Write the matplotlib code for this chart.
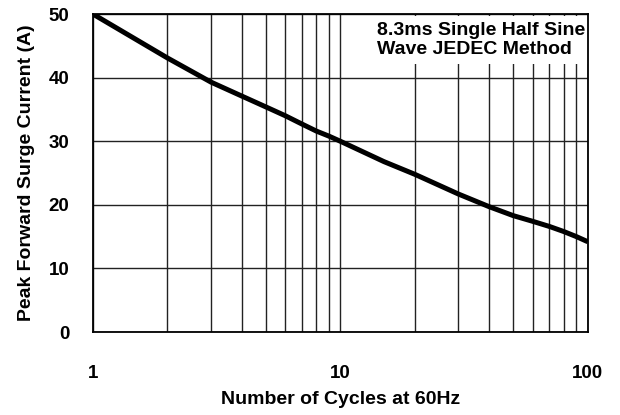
import numpy as np
import matplotlib.pyplot as plt
from matplotlib.ticker import FixedLocator, NullFormatter

# -----------------------------------------------------------------------------

cycles = [1, 2, 3, 4, 5, 6, 7, 8, 9, 10, 15, 20, 30, 40, 50, 60, 70, 80, 90, 100]
current = [50.0, 43.1, 39.3, 37.1, 35.4, 34.0, 32.7, 31.6, 30.8, 30.0,
           26.8, 24.8, 21.7, 19.7, 18.3, 17.4, 16.6, 15.8, 15.0, 14.2]

x_ticks = [1, 10, 100]
y_ticks = [0, 10, 20, 30, 40, 50]

note = '8.3ms Single Half Sine\nWave JEDEC Method'

# -----------------------------------------------------------------------------

plt.rcParams['font.family'] = ['Liberation Sans', 'DejaVu Sans']
plt.rcParams['font.weight'] = 'bold'

fig = plt.figure(figsize=(6.2, 4.15), dpi=100)
ax = fig.add_axes([0.15, 0.2, 0.798, 0.766])

ax.plot(cycles, current, color='black', linewidth=3.6, solid_capstyle='butt',
        solid_joinstyle='round', zorder=3)

ax.set_xscale('log')
ax.set_xlim(1, 100)
ax.set_ylim(0, 50)

ax.set_xticks(x_ticks)
ax.set_xticklabels([str(t) for t in x_ticks])
ax.xaxis.set_minor_locator(FixedLocator(
    [m * d for d in (1, 10) for m in range(2, 10)]))
ax.xaxis.set_minor_formatter(NullFormatter())
ax.set_yticks(y_ticks)

ax.tick_params(which='both', length=0, labelsize=13.5)
ax.tick_params(axis='x', pad=24)
ax.tick_params(axis='y', pad=17)

ax.grid(which='major', color='#222222', linewidth=1.0)
ax.grid(which='minor', axis='x', color='#222222', linewidth=1.0)

for s in ax.spines.values():
    s.set_linewidth(1.3)
    s.set_zorder(4)

ax.set_xlabel('Number of Cycles at 60Hz', fontsize=14, fontweight='bold',
              labelpad=6)
ax.set_ylabel('Peak Forward Surge Current (A)', fontsize=14,
              fontweight='bold', labelpad=10)

ax.text(0.575, 0.975, note, transform=ax.transAxes, fontsize=14,
        fontweight='bold', va='top', ha='left', linespacing=1.15,
        bbox=dict(facecolor='white', edgecolor='none', pad=4), zorder=2.4)

fig.savefig('out.png', dpi=100)
